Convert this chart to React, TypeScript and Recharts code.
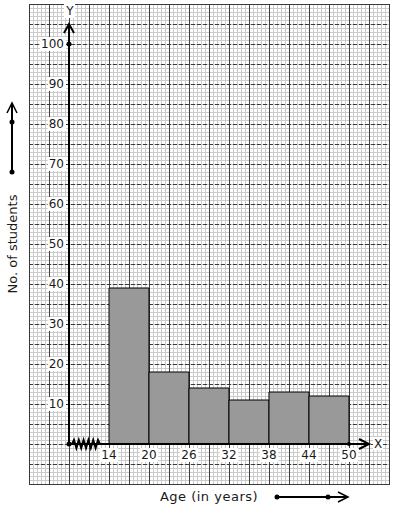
import {
  ComposedChart,
  Bar,
  XAxis,
  YAxis,
  CartesianGrid,
  ReferenceLine,
  ReferenceDot,
  ReferenceArea,
  Label,
} from "recharts";

const ageEdges = [14, 20, 26, 32, 38, 44, 50];
const students = [39, 18, 14, 11, 13, 12];
const countTicks = [10, 20, 30, 40, 50, 60, 70, 80, 90, 100];

const data = students.map((count, i) => ({
  mid: (ageEdges[i] + ageEdges[i + 1]) / 2,
  count,
}));

// graph paper: the plot is 90 x 120 minor cells, 5 minor cells per major cell
const COLS = 90;
const ROWS = 120;
const split = (start: number, size: number, n: number, step: number) => {
  const out: number[] = [];
  for (let i = 0; i <= n; i += step) out.push(start + (size * i) / n);
  return out;
};

const FONT = "DejaVu Sans, Verdana, sans-serif";
const INK = "#1a1a1a";

const YTick = (props: any) => {
  const { x, y, payload } = props;
  const s = String(payload.value);
  const w = s.length * 7.7 + 2;
  return (
    <g>
      <rect x={x - w + 1} y={y - 7} width={w + 1} height={14} fill="#fff" />
      <text x={x} y={y} dy="0.36em" textAnchor="end" fontSize={12} fill={INK} fontFamily={FONT}>
        {s}
      </text>
    </g>
  );
};

const XTick = (props: any) => {
  const { x, y, payload } = props;
  const s = String(payload.value);
  const w = s.length * 7.7 + 3;
  return (
    <g>
      <rect x={x - w / 2} y={y - 7} width={w} height={14} fill="#fff" />
      <text x={x} y={y} dy="0.36em" textAnchor="middle" fontSize={12} fill={INK} fontFamily={FONT}>
        {s}
      </text>
    </g>
  );
};

const XAxisShape = (p: any) => {
  const { x1, y1, x2, y2 } = p;
  let zig = `M${x1 + 3},${y1}`;
  for (let i = 0; i < 11; i++) {
    const zx = x1 + 5 + i * 2.4;
    zig += ` L${zx},${y1 + (i % 2 === 0 ? -4 : 4)}`;
  }
  zig += ` L${x1 + 31},${y1}`;
  return (
    <g>
      <line x1={x1} y1={y1} x2={x2} y2={y2} stroke="#000" strokeWidth={2} />
      <path d={zig} fill="none" stroke="#000" strokeWidth={2} />
      <polyline
        points={`${x2 - 10},${y2 - 5} ${x2},${y2} ${x2 - 10},${y2 + 5}`}
        fill="none"
        stroke="#000"
        strokeWidth={2}
      />
      <rect x={x2 + 4} y={y2 - 7} width={10} height={13} fill="#fff" />
      <text x={x2 + 9} y={y2} dy="0.36em" textAnchor="middle" fontSize={12} fill={INK} fontFamily={FONT}>
        X
      </text>
    </g>
  );
};

const YAxisShape = (p: any) => {
  const { x1, y1, x2, y2 } = p;
  return (
    <g>
      <line x1={x1} y1={y1} x2={x2} y2={y2} stroke="#000" strokeWidth={2} />
      <polyline
        points={`${x2 - 5},${y2 + 9} ${x2},${y2} ${x2 + 5},${y2 + 9}`}
        fill="none"
        stroke="#000"
        strokeWidth={2}
      />
      <rect x={x2 - 5} y={y2 - 20} width={11} height={14} fill="#fff" />
      <text x={x2 + 1} y={y2 - 13} dy="0.36em" textAnchor="middle" fontSize={12} fill={INK} fontFamily={FONT}>
        Y
      </text>
    </g>
  );
};

const ScaleArrowH = ({ x, y }: { x: number; y: number }) => (
  <g>
    <line x1={x} y1={y} x2={x + 70} y2={y} stroke="#000" strokeWidth={2} />
    <polyline points={`${x + 61},${y - 5} ${x + 71},${y} ${x + 61},${y + 5}`} fill="none" stroke="#000" strokeWidth={1.5} />
    <circle cx={x} cy={y} r={2.5} fill="#000" />
    <circle cx={x + 51} cy={y} r={2.5} fill="#000" />
  </g>
);

const ScaleArrowV = ({ x, y }: { x: number; y: number }) => (
  <g>
    <line x1={x} y1={y} x2={x} y2={y - 68} stroke="#000" strokeWidth={2} />
    <polyline points={`${x - 5},${y - 59} ${x},${y - 69} ${x + 5},${y - 59}`} fill="none" stroke="#000" strokeWidth={1.5} />
    <circle cx={x} cy={y} r={2.5} fill="#000" />
    <circle cx={x} cy={y - 50} r={2.5} fill="#000" />
  </g>
);

const XTitle = (props: any) => {
  const { x, y, width } = props.viewBox;
  const cx = x + width / 2;
  return (
    <g>
      <text x={cx} y={y + 12} dy="0.36em" textAnchor="middle" fontSize={13} fill={INK} fontFamily={FONT} letterSpacing={0.5}>
        Age (in years)
      </text>
      <ScaleArrowH x={cx + 68} y={y + 13} />
    </g>
  );
};

const YTitle = (props: any) => {
  const { y, height } = props.viewBox;
  const cy = y + height / 2;
  return (
    <g>
      <text
        x={12}
        y={cy}
        dy="0.36em"
        textAnchor="middle"
        fontSize={13}
        fill={INK}
        fontFamily={FONT}
        transform={`rotate(-90, 12, ${cy})`}
      >
        No. of students
      </text>
      <ScaleArrowV x={12} y={cy - 72} />
    </g>
  );
};

export default function App() {
  return (
    <div style={{ position: "absolute", left: 0, top: 0, width: 394, height: 510, background: "#fff" }}>
      <ComposedChart
        width={394}
        height={510}
        data={data}
        margin={{ top: 4, right: 5, bottom: 0, left: 0 }}
        style={{ fontFamily: FONT }}
      >
        <CartesianGrid
          stroke="#cbcbcb"
          shapeRendering="crispEdges"
          verticalCoordinatesGenerator={({ offset }: any) => split(offset.left, offset.width, COLS, 1)}
          horizontalCoordinatesGenerator={({ offset }: any) => split(offset.top, offset.height, ROWS, 1)}
        />
        <CartesianGrid
          horizontal={false}
          stroke="#404040"
          shapeRendering="crispEdges"
          verticalCoordinatesGenerator={({ offset }: any) => split(offset.left, offset.width, COLS, 5)}
        />
        <CartesianGrid
          vertical={false}
          stroke="#3a3a3a"
          strokeDasharray="4 2"
          shapeRendering="crispEdges"
          horizontalCoordinatesGenerator={({ offset }: any) => split(offset.top, offset.height, ROWS, 5)}
        />

        <XAxis
          xAxisId="age"
          dataKey="mid"
          type="number"
          domain={[2, 56]}
          ticks={ageEdges}
          interval={0}
          height={26}
          axisLine={false}
          tickLine={false}
          tickSize={0}
          tickMargin={-29}
          tick={<XTick />}
        >
          <Label content={<XTitle />} />
        </XAxis>
        <YAxis
          yAxisId="count"
          type="number"
          domain={[-10, 110]}
          ticks={countTicks}
          interval={0}
          width={29}
          axisLine={false}
          tickLine={false}
          tickSize={0}
          tickMargin={-35}
          tick={<YTick />}
        >
          <Label content={<YTitle />} />
        </YAxis>

        <ReferenceArea
          xAxisId="age"
          yAxisId="count"
          x1={2}
          x2={56}
          y1={-10}
          y2={110}
          fill="none"
          stroke="#3a3a3a"
          shapeRendering="crispEdges"
        />

        <Bar
          xAxisId="age"
          yAxisId="count"
          dataKey="count"
          barSize={39.99}
          fill="#999999"
          stroke="#000"
          strokeWidth={1}
          isAnimationActive={false}
        />

        <ReferenceLine
          xAxisId="age"
          yAxisId="count"
          segment={[{ x: 8, y: 0 }, { x: 53, y: 0 }]}
          shape={<XAxisShape />}
        />
        <ReferenceLine
          xAxisId="age"
          yAxisId="count"
          segment={[{ x: 8, y: 0 }, { x: 8, y: 105 }]}
          shape={<YAxisShape />}
        />
        <ReferenceDot xAxisId="age" yAxisId="count" x={8} y={0} r={2.5} fill="#000" stroke="none" />
        <ReferenceDot xAxisId="age" yAxisId="count" x={8} y={100} r={2.5} fill="#000" stroke="none" />
        <ReferenceDot xAxisId="age" yAxisId="count" x={50} y={0} r={2} fill="#000" stroke="none" />
      </ComposedChart>
    </div>
  );
}
